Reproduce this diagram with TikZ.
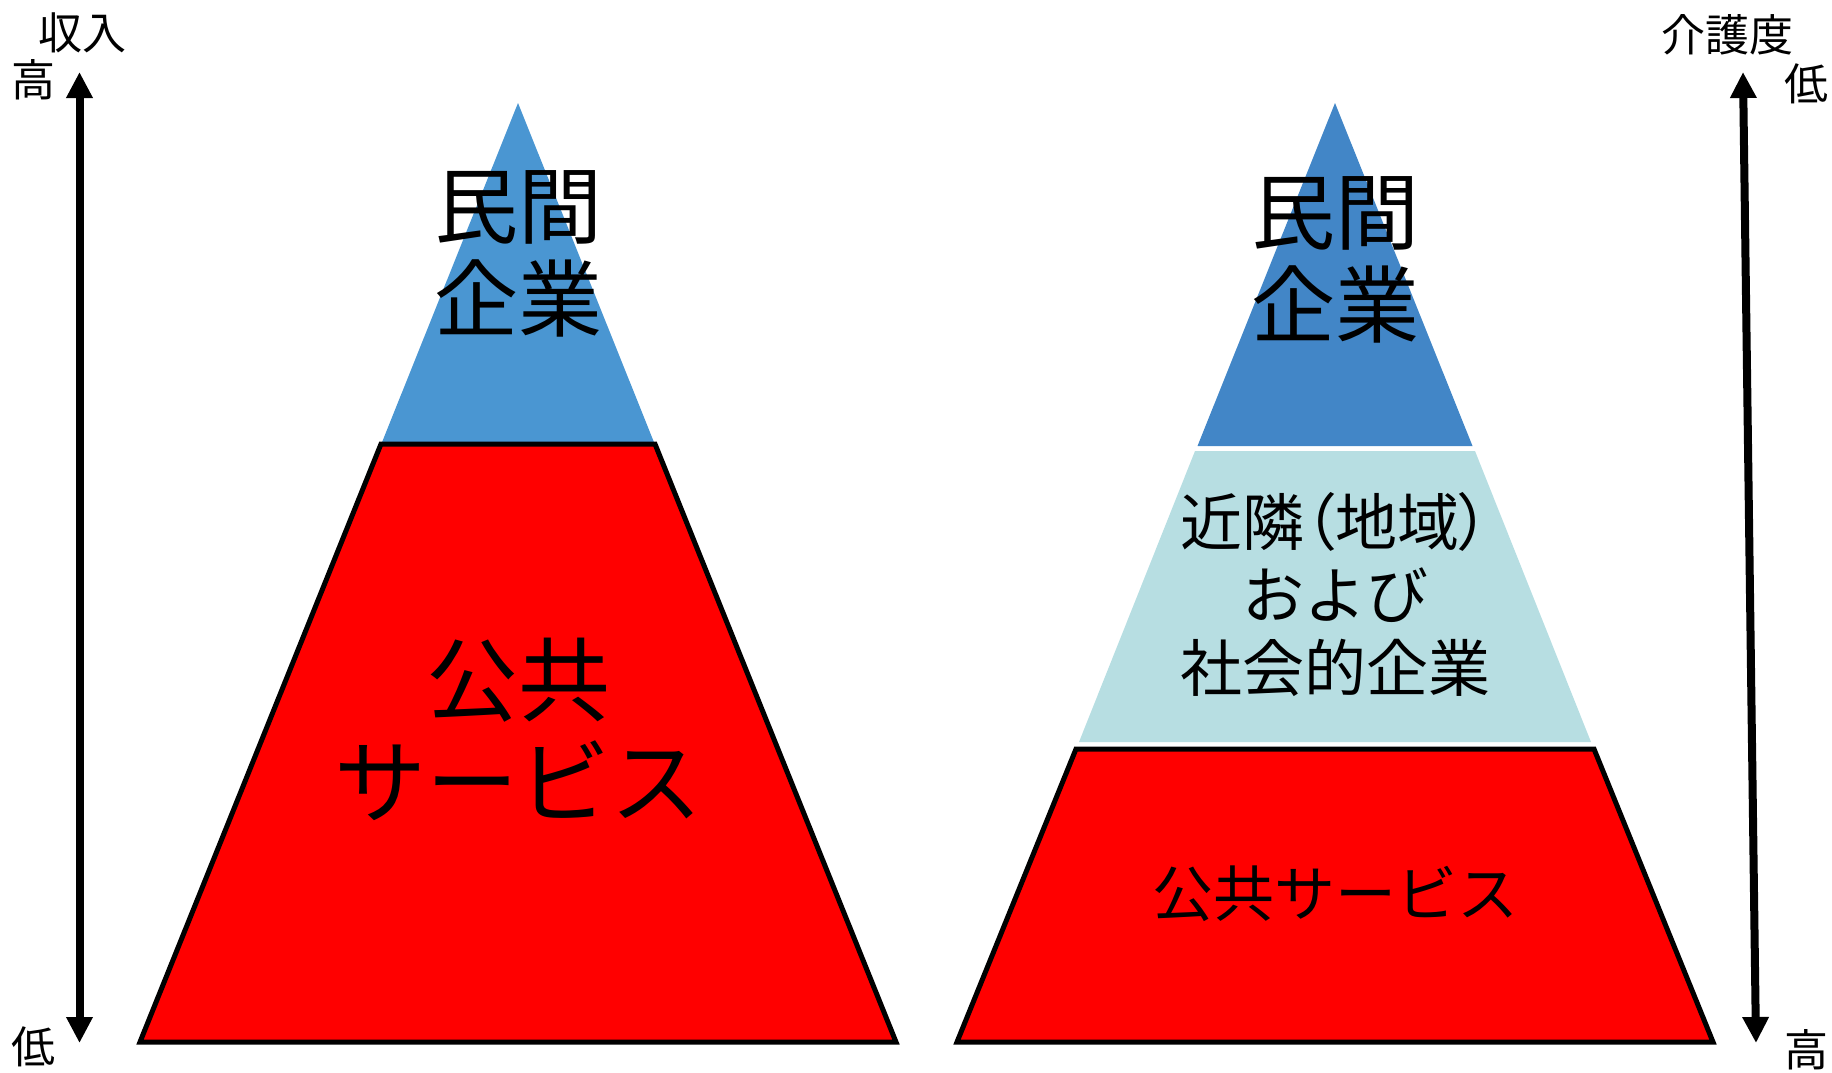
\documentclass[tikz,border=0pt]{standalone}
\usepackage{fontspec}
\newfontfamily\cjk{Noto Sans CJK JP}
\newfontfamily\cjkp[RawFeature=+palt]{Noto Sans CJK JP}
\usetikzlibrary{arrows.meta}
\definecolor{blueA}{RGB}{74,150,210}
\definecolor{blueB}{RGB}{66,134,199}
\definecolor{aquaL}{RGB}{183,222,226}
\definecolor{redF}{RGB}{255,0,0}
\tikzset{
  sidelab/.style={font=\cjk\fontsize{44}{50}\selectfont, inner sep=0pt},
  biglab/.style={font=\cjk\fontsize{84}{93}\selectfont, align=center, inner sep=0pt},
  publab/.style={font=\cjk\fontsize{92}{102}\selectfont, align=center, inner sep=0pt},
  midlab/.style={font=\cjk\fontsize{62}{73}\selectfont, align=center, inner sep=0pt},
  smalllab/.style={font=\cjk\fontsize{61}{62}\selectfont, inner sep=0pt},
  redbox/.style={fill=redF, draw=black, line width=5pt, line join=miter},
  axis/.style={line width=8pt, {Triangle[length=26pt,width=25pt]}-{Triangle[length=26pt,width=25pt]}}
}
\begin{document}
\begin{tikzpicture}[x=1pt,y=-1pt]
\useasboundingbox (0,0) rectangle (1832,1073);
% left pyramid
\fill[blueA] (518,103) -- (654.7,444) -- (381.3,444) -- cycle;
\draw[redbox] (381,444) -- (655,444) -- (896,1042) -- (140,1042) -- cycle;
% right pyramid
\fill[blueB] (1335,103) -- (1472.5,446) -- (1197.5,446) -- cycle;
\fill[aquaL] (1195,451) -- (1475,451) -- (1591,742) -- (1079,742) -- cycle;
\draw[redbox] (1076,749) -- (1594,749) -- (1713,1042) -- (957,1042) -- cycle;
% axes
\coordinate (la1) at (79.5,72);
\coordinate (la2) at (79.5,1043);
\coordinate (ra1) at (1743,72);
\coordinate (ra2) at (1756,1043);
\draw[axis] (la1) -- (la2);
\draw[axis] (ra1) -- (ra2);
% side labels
\node[sidelab] (inc) at (82,33) {収入};
\node[sidelab] (lhi) at (34,80) {高};
\node[sidelab] (llo) at (34,1047) {低};
\node[sidelab] (care) at (1727,35) {介護度};
\node[sidelab] (rlo) at (1806,84) {低};
\node[sidelab] (rhi) at (1806,1050) {高};
% pyramid labels
\node[biglab] (lpriv) at (518,254) {民間\\企業};
\node[publab] (lpub) at (518,729) {公共\\サービス};
\node[biglab] (rpriv) at (1335,260) {民間\\企業};
\node[midlab] (rmid) at (1335,595) {{\cjkp 近隣（地域）}\\および\\社会的企業};
\node[smalllab] (rpub) at (1335,894) {公共サービス};
\end{tikzpicture}
\end{document}
